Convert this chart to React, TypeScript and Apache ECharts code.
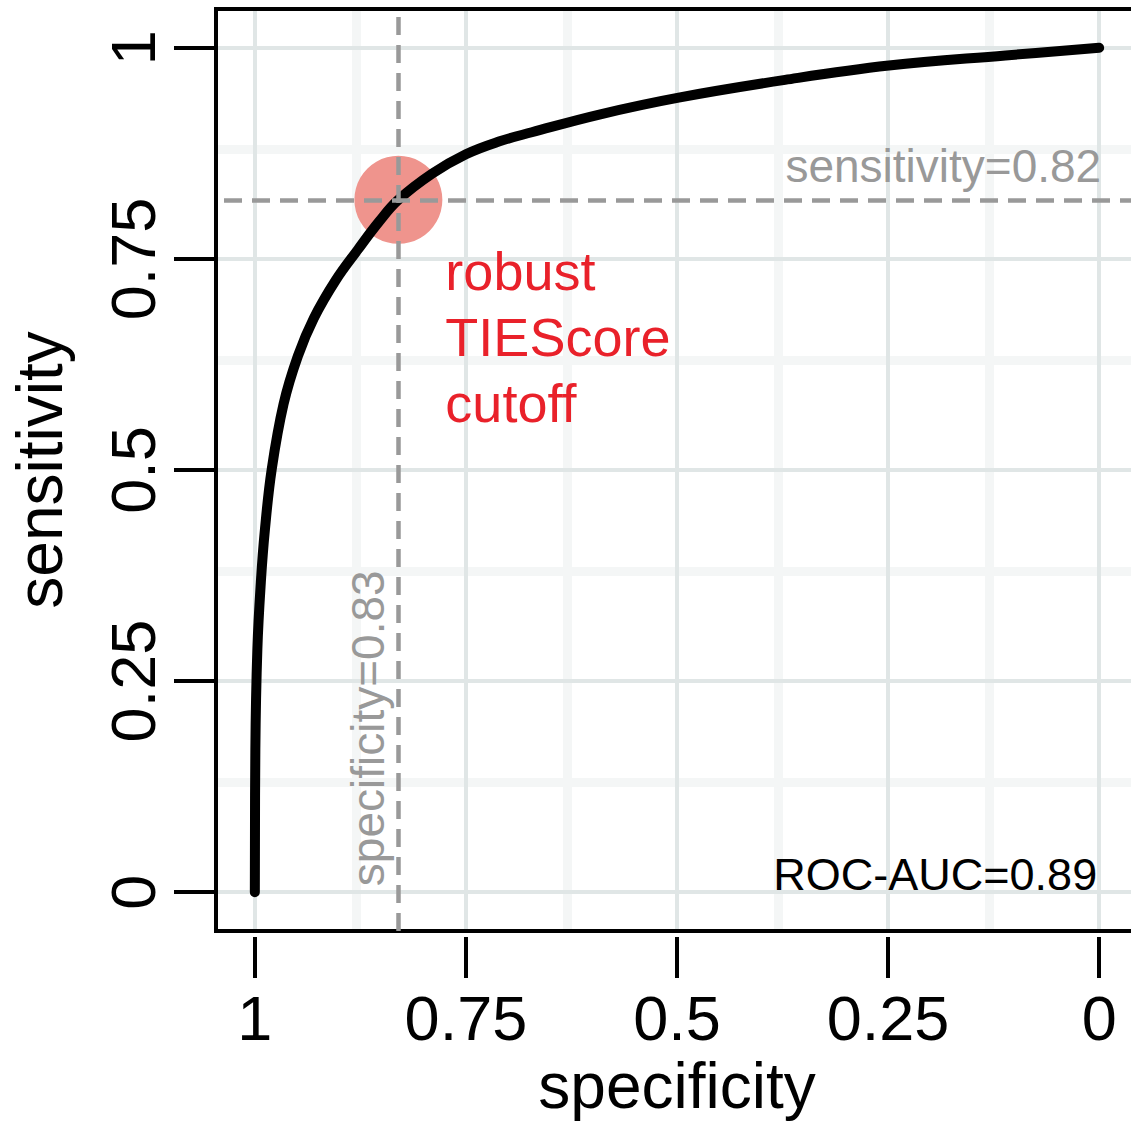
import React, { useEffect, useRef } from "react";
import * as echarts from "echarts";

// ROC curve (specificity on x, sensitivity on y)
const specificity = [1.0, 0.9994, 0.997, 0.9929, 0.988, 0.98, 0.966, 0.949, 0.93, 0.904, 0.878, 0.853, 0.83, 0.79, 0.75, 0.711, 0.672, 0.592, 0.498, 0.372, 0.249, 0.111, 0.0];
const sensitivity = [0.0, 0.169, 0.288, 0.367, 0.43, 0.501, 0.578, 0.635, 0.68, 0.725, 0.761, 0.794, 0.82, 0.851, 0.874, 0.889, 0.9, 0.921, 0.941, 0.962, 0.979, 0.991, 1.0];

const tickValues = [0, 0.25, 0.5, 0.75, 1];
const tickLabels = ["0", "0.25", "0.5", "0.75", "1"];
const minorGridValues = [0.125, 0.375, 0.625, 0.875];

const cutoffSpecificity = 0.83;
const cutoffSensitivity = 0.82;
const rocAuc = 0.89;

const FONT = '"Liberation Sans", Arial, Helvetica, sans-serif';
const AX_MIN = -0.046;
const AX_MAX = 1.046;

const fmt = (v: number) => {
  const i = tickValues.findIndex((t) => Math.abs(t - v) < 1e-9);
  return i >= 0 ? tickLabels[i] : "";
};

export default function App() {
  const ref = useRef<HTMLDivElement>(null);

  useEffect(() => {
    document.body.style.margin = "0";
    if (!ref.current) return;
    const chart = echarts.init(ref.current, null, { renderer: "svg" });

    const curve = specificity.map((s, i) => [s, sensitivity[i]]);

    const gridLineSeries = (values: number[], color: string, width: number) => ({
      type: "line",
      data: [],
      silent: true,
      z: 1,
      markLine: {
        silent: true,
        animation: false,
        z: 1,
        symbol: ["none", "none"],
        label: { show: false },
        lineStyle: { color, width, type: "solid" },
        emphasis: { disabled: true },
        data: values.flatMap((v) => [{ xAxis: v }, { yAxis: v }]),
      },
    });

    const axisCommon = {
      type: "value",
      min: AX_MIN,
      max: AX_MAX,
      axisLine: { show: true, onZero: false, lineStyle: { color: "#000", opacity: 0, width: 1 } },
      splitLine: { show: false },
    };

    const option: any = {
      animation: false,
      backgroundColor: "#ffffff",
      grid: {
        left: 216,
        top: 9,
        width: 922,
        height: 922,
        show: false,
        containLabel: false,
        outerBoundsMode: "none",
      },
      xAxis: {
        ...axisCommon,
        inverse: true,
        offset: 6,
        axisTick: {
          show: true,
          length: 41,
          customValues: tickValues,
          lineStyle: { color: "#000", width: 4 },
        },
        axisLabel: {
          customValues: tickValues,
          formatter: (v: number) => fmt(v),
          fontSize: 63,
          fontFamily: FONT,
          color: "#000",
          margin: 49,
        },
        name: "specificity",
        nameLocation: "middle",
        nameGap: 101,
        nameTextStyle: { fontSize: 64, fontFamily: FONT, color: "#000" },
      },
      yAxis: {
        ...axisCommon,
        axisTick: {
          show: true,
          length: 42,
          customValues: tickValues,
          lineStyle: { color: "#000", width: 4 },
        },
        axisLabel: {
          customValues: tickValues,
          formatter: (v: number) => fmt(v),
          fontSize: 63,
          fontFamily: FONT,
          color: "#000",
          margin: 52,
          rotate: 90,
        },
        name: "sensitivity",
        nameLocation: "middle",
        nameGap: 144,
        nameTextStyle: { fontSize: 64, fontFamily: FONT, color: "#000" },
      },
      series: [
        gridLineSeries(minorGridValues, "#f4f6f6", 9),
        gridLineSeries(tickValues, "#e0e6e6", 4),
        {
          type: "scatter",
          data: [[cutoffSpecificity, cutoffSensitivity]],
          symbol: "circle",
          symbolSize: 88,
          itemStyle: { color: "#ef948d", opacity: 1 },
          silent: true,
          z: 2,
        },
        {
          type: "line",
          data: curve,
          showSymbol: false,
          symbol: "none",
          smooth: 0.4,
          lineStyle: { color: "#000", width: 10, cap: "round", join: "round" },
          silent: true,
          z: 4,
        },
        {
          type: "line",
          data: [],
          silent: true,
          z: 5,
          markLine: {
            silent: true,
            animation: false,
            z: 5,
            symbol: ["none", "none"],
            label: { show: false },
            lineStyle: { color: "#999999", width: 4.5, type: [18, 10] },
            data: [{ xAxis: cutoffSpecificity }, { yAxis: cutoffSensitivity }],
          },
        },
      ],
    };
    chart.setOption(option);

    const px = (x: number, y: number) => chart.convertToPixel({ gridIndex: 0 }, [x, y]) as number[];
    const tl = px(AX_MAX, AX_MAX);
    const br = px(AX_MIN, AX_MIN);
    const cut = px(cutoffSpecificity, cutoffSensitivity);
    const zeroX = px(0, cutoffSensitivity)[0];
    const zeroY = px(cutoffSpecificity, 0)[1];

    const txt = (text: string, x: number, y: number, size: number, color: string, align: string, extra: any = {}) => ({
      type: "text",
      x,
      y,
      silent: true,
      z: 6,
      rotation: extra.rotation || 0,
      style: {
        text,
        fill: color,
        fontSize: size,
        fontFamily: FONT,
        align,
        textAlign: align,
        verticalAlign: extra.vAlign || "middle",
        textVerticalAlign: extra.vAlign || "middle",
        lineHeight: extra.lineHeight,
      },
    });

    chart.setOption({
      graphic: [
        {
          type: "rect",
          silent: true,
          z: 3,
          shape: { x: tl[0], y: tl[1], width: br[0] - tl[0], height: br[1] - tl[1] },
          style: { fill: "none", stroke: "#000", lineWidth: 4 },
        },
        txt(`sensitivity=${cutoffSensitivity}`, zeroX + 2, cut[1] - 34, 46, "#999999", "right"),
        txt(`specificity=${cutoffSpecificity}`, cut[0] - 30, zeroY - 6, 46, "#999999", "left", { rotation: Math.PI / 2 }),
        txt(`ROC-AUC=${rocAuc}`, zeroX - 2, zeroY - 18, 45, "#000000", "right"),
        txt("robust\nTIEScore\ncutoff", cut[0] + 47, cut[1] + 38, 54, "#e9212a", "left", { vAlign: "top", lineHeight: 66 }),
      ],
    });

    return () => chart.dispose();
  }, []);

  return (
    <div
      ref={ref}
      style={{ position: "absolute", left: 0, top: 0, width: 1131, height: 1121 }}
    />
  );
}
